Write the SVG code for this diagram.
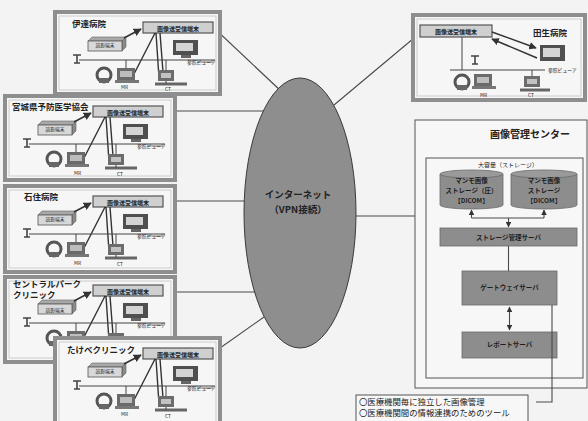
<svg xmlns="http://www.w3.org/2000/svg" xmlns:xlink="http://www.w3.org/1999/xlink" width="588" height="421" viewBox="0 0 588 421">
  <style>
    text { font-family: "Noto Sans CJK JP", "Noto Sans", sans-serif; fill: #222; }
    .name { font-size: 8.5px; font-weight: bold; }
    .gw { font-size: 6px; font-weight: bold; text-anchor: middle; }
    .tiny { font-size: 4.8px; }
    .mid { text-anchor: middle; }
    .frame { fill: #f6f6f6; stroke: #8e8e8e; stroke-width: 4; }
    .frame-in { fill: none; stroke: #c4c4c4; stroke-width: 0.8; }
    .link { fill: none; stroke: #4a4a4a; stroke-width: 1.1; }
    .srv { fill: #8d8d8d; stroke: #6a6a6a; stroke-width: 0.8; }
    .srvtxt { font-size: 6.5px; font-weight: bold; text-anchor: middle; fill: #1e1e1e; }
    .box { fill: #f7f7f7; stroke: #555; stroke-width: 1; }
  </style>
  <defs>
    <marker id="ah" viewBox="0 0 10 10" refX="9" refY="5" markerWidth="5" markerHeight="5" orient="auto-start-reverse">
      <path d="M0 0 L10 5 L0 10 z" fill="#333"/>
    </marker>
    <!-- equipment of one site: gateway terminal, reading terminal, viewer, network, MR and CT -->
    <g id="site">
      <rect x="88" y="10" width="70" height="11" fill="#cfcfcf" stroke="#555" stroke-width="1.2"/>
      <polygon points="33,29 37,25 71,25 67,29" fill="#a8a8a8" stroke="#666" stroke-width="0.6"/>
      <polygon points="67,29 71,25 71,35 67,39" fill="#8a8a8a" stroke="#666" stroke-width="0.6"/>
      <rect x="33" y="29" width="34" height="10" fill="#d8d8d8" stroke="#555" stroke-width="0.8"/>
      <path d="M69 26 L86 17" stroke="#333" stroke-width="1.6" fill="none" marker-end="url(#ah)"/>
      <path d="M100 21 L79 62 M101 21 L104 66 M105 21 L108 60" stroke="#333" stroke-width="1.4" fill="none"/>
      <path d="M24 48 L160 48" stroke="#444" stroke-width="1"/>
      <path d="M18 43 L26 43 M22 43 L22 51 M19 51 L25 51" stroke="#444" stroke-width="1.6" fill="none"/>
      <rect x="118" y="28" width="25" height="15" fill="#4f4f4f"/>
      <rect x="121" y="31" width="17" height="8" fill="#d4d4d4"/>
      <rect x="126" y="43" width="10" height="3" fill="#666"/>
      <!-- MR -->
      <circle cx="49" cy="63" r="7" fill="none" stroke="#555" stroke-width="3"/>
      <rect x="44" y="66" width="10" height="5" fill="#666"/>
      <rect x="62" y="56" width="18" height="12" fill="#6a6a6a"/>
      <rect x="65" y="59" width="12" height="6" fill="#bdbdbd"/>
      <rect x="60" y="68" width="24" height="3" fill="#777"/>
      <path d="M71 48 L71 56" stroke="#444" stroke-width="1"/>
      <!-- CT -->
      <rect x="103" y="58" width="16" height="11" fill="#6c6c6c"/>
      <rect x="106" y="61" width="10" height="5" fill="#c2c2c2"/>
      <path d="M100 72 L132 72" stroke="#666" stroke-width="3"/>
      <path d="M111 48 L111 58 M111 69 L111 72" stroke="#444" stroke-width="1"/>
      <path d="M143 50 L158 50" stroke="#555" stroke-width="0.8"/>
    </g>
  </defs>

  <rect width="588" height="421" fill="#f3f3f3"/>

  <!-- network connectors -->
  <g id="connectors">
    <path class="link" d="M213 27 L282 92"/>
    <path class="link" d="M163 111 L264 111"/>
    <path class="link" d="M163 201 L245 201"/>
    <path class="link" d="M163 292 L255 292"/>
    <path class="link" d="M213 353 L264 317"/>
    <path class="link" d="M334 105 L420 33"/>
    <path class="link" d="M356 216 L426 216"/>
  </g>

  <!-- site 4 sits beneath site 5 -->
  <g id="central-park">
    <rect class="frame" x="5" y="277" width="170" height="85"/>
    <rect class="frame-in" x="9" y="281" width="162" height="77"/>
    <use href="#site" transform="translate(5,275)"/>
    <text class="name" x="13" y="287" font-size="8">セントラルパーク</text>
    <text class="name" x="13" y="298" font-size="8">クリニック</text>
    <text class="gw" x="128" y="293.5">画像送受信端末</text>
    <text class="tiny mid" x="55" y="312">読影端末</text>
    <text class="tiny" x="137" y="327">参照ビューア</text>
  </g>

  <g id="date">
    <rect class="frame" x="55" y="12" width="165" height="82"/>
    <rect class="frame-in" x="59" y="16" width="157" height="74"/>
    <use href="#site" transform="translate(55,12)"/>
    <text class="name" x="72" y="27">伊達病院</text>
    <text class="gw" x="178" y="30.5">画像送受信端末</text>
    <text class="tiny mid" x="105" y="47">読影端末</text>
    <text class="tiny" x="187" y="64">参照ビューア</text>
    <text class="tiny" x="121" y="89">MR</text>
    <text class="tiny" x="165" y="91">CT</text>
  </g>

  <g id="miyagi">
    <rect class="frame" x="5" y="96" width="170" height="84"/>
    <rect class="frame-in" x="9" y="100" width="162" height="76"/>
    <use href="#site" transform="translate(5,96)"/>
    <text class="name" x="12" y="110">宮城県予防医学協会</text>
    <text class="gw" x="128" y="114.5">画像送受信端末</text>
    <text class="tiny mid" x="55" y="131">読影端末</text>
    <text class="tiny" x="137" y="148">参照ビューア</text>
    <text class="tiny" x="74" y="175">MR</text>
    <text class="tiny" x="117" y="176">CT</text>
  </g>

  <g id="ishizumi">
    <rect class="frame" x="5" y="186" width="170" height="86"/>
    <rect class="frame-in" x="9" y="190" width="162" height="78"/>
    <use href="#site" transform="translate(5,186)"/>
    <text class="name" x="24" y="200">石住病院</text>
    <text class="gw" x="128" y="204.5">画像送受信端末</text>
    <text class="tiny mid" x="55" y="221">読影端末</text>
    <text class="tiny" x="137" y="238">参照ビューア</text>
    <text class="tiny" x="74" y="265">MR</text>
    <text class="tiny" x="117" y="266">CT</text>
  </g>

  <g id="takebe">
    <rect class="frame" x="55" y="338" width="165" height="90"/>
    <rect class="frame-in" x="59" y="342" width="157" height="82"/>
    <use href="#site" transform="translate(55,338)"/>
    <text class="name" x="67" y="353">たけべクリニック</text>
    <text class="gw" x="178" y="356.5">画像送受信端末</text>
    <text class="tiny mid" x="105" y="373">読影端末</text>
    <text class="tiny" x="187" y="390">参照ビューア</text>
    <text class="tiny" x="121" y="416">MR</text>
    <text class="tiny" x="165" y="418">CT</text>
  </g>

  <g id="tasei">
    <rect class="frame" x="413" y="15" width="172" height="85"/>
    <rect class="frame-in" x="417" y="19" width="164" height="77"/>
    <rect x="420" y="25" width="72" height="12" fill="#cfcfcf" stroke="#555" stroke-width="1.2"/>
    <text class="gw" x="456" y="33.5">画像送受信端末</text>
    <text class="name" x="533" y="36">田生病院</text>
    <path d="M492 32 L536 48" stroke="#333" stroke-width="1.5" fill="none" marker-end="url(#ah)"/>
    <path d="M537 58 L492 39" stroke="#333" stroke-width="1.5" fill="none" marker-end="url(#ah)"/>
    <rect x="540" y="45" width="25" height="16" fill="#4f4f4f"/>
    <rect x="543" y="48" width="17" height="9" fill="#d4d4d4"/>
    <path d="M462 37 L462 70 M450 70 L545 70" stroke="#444" stroke-width="1" fill="none"/>
    <path d="M471 56 L479 56 M475 56 L475 64 M472 64 L478 64" stroke="#444" stroke-width="1.6" fill="none"/>
    <text class="tiny" x="548" y="72">参照ビューア</text>
    <circle cx="462" cy="82" r="7" fill="none" stroke="#555" stroke-width="3"/>
    <rect x="457" y="85" width="10" height="5" fill="#666"/>
    <rect x="474" y="74" width="18" height="12" fill="#6a6a6a"/>
    <rect x="477" y="77" width="12" height="6" fill="#bdbdbd"/>
    <rect x="472" y="86" width="24" height="3" fill="#777"/>
    <rect x="524" y="76" width="16" height="11" fill="#6c6c6c"/>
    <rect x="527" y="79" width="10" height="5" fill="#c2c2c2"/>
    <path d="M520 90 L550 90" stroke="#666" stroke-width="3"/>
    <path d="M532 70 L532 76" stroke="#444" stroke-width="1"/>
    <text class="tiny" x="480" y="97">MR</text>
    <text class="tiny" x="528" y="97">CT</text>
  </g>

  <g id="internet">
    <ellipse cx="300" cy="213" rx="56" ry="135" fill="#8e8e8e" stroke="#3a3a3a" stroke-width="1"/>
    <text x="298" y="198" text-anchor="middle" font-size="9.5" font-weight="bold">インターネット</text>
    <text x="298" y="213" text-anchor="middle" font-size="9.5" font-weight="bold">（VPN接続）</text>
  </g>

  <g id="image-center">
    <rect class="box" x="415" y="120" width="172" height="268"/>
    <text x="530" y="138" text-anchor="middle" font-size="10" font-weight="bold">画像管理センター</text>
    <rect class="box" x="426" y="158" width="157" height="220" fill="none"/>
    <text x="508" y="167" text-anchor="middle" font-size="6">大容量（ストレージ）</text>
  </g>

  <g id="storage-a">
    <path class="srv" d="M440 174 L440 205 A31.5 4 0 0 0 503 205 L503 174"/>
    <ellipse cx="471.5" cy="174" rx="31.5" ry="4" fill="#9a9a9a" stroke="#6a6a6a" stroke-width="0.8"/>
    <text class="srvtxt" x="471.5" y="183" font-size="6">マンモ画像</text>
    <text class="srvtxt" x="471.5" y="193">ストレージ（圧）</text>
    <text class="srvtxt" x="471.5" y="203">【DICOM】</text>
  </g>
  <g id="storage-b">
    <path class="srv" d="M511 174 L511 205 A33 4 0 0 0 577 205 L577 174"/>
    <ellipse cx="544" cy="174" rx="33" ry="4" fill="#9a9a9a" stroke="#6a6a6a" stroke-width="0.8"/>
    <text class="srvtxt" x="544" y="183">マンモ画像</text>
    <text class="srvtxt" x="544" y="193">ストレージ</text>
    <text class="srvtxt" x="544" y="203">【DICOM】</text>
  </g>
  <g id="storage-server">
    <rect class="srv" x="440" y="228" width="137" height="18"/>
    <text class="srvtxt" x="508.5" y="239.5">ストレージ管理サーバ</text>
  </g>
  <g id="gateway-server">
    <rect class="srv" x="462" y="271" width="95" height="34"/>
    <text class="srvtxt" x="509.5" y="290">ゲートウェイサーバ</text>
  </g>
  <g id="report-server">
    <rect class="srv" x="462" y="332" width="95" height="26"/>
    <text class="srvtxt" x="509.5" y="347">レポートサーバ</text>
  </g>

  <g id="center-links">
    <path class="link" d="M471.5 218 L471.5 210" marker-end="url(#ah)"/>
    <path class="link" d="M544 218 L544 210" marker-end="url(#ah)"/>
    <path class="link" d="M471.5 218 L544 218"/>
    <path class="link" d="M508.5 218 L508.5 227" marker-end="url(#ah)"/>
    <path class="link" d="M508.5 246 L508.5 271"/>
    <path class="link" d="M509.5 307 L509.5 330" marker-start="url(#ah)" marker-end="url(#ah)"/>
    <path class="link" d="M552 305 L552 402 L536 402"/>
  </g>

  <g id="note">
    <rect class="box" x="356" y="395" width="172" height="30" fill="#fafafa"/>
    <text x="359" y="405" font-size="8.4">〇医療機関毎に独立した画像管理</text>
    <text x="359" y="416" font-size="8.4">〇医療機関間の情報連携のためのツール</text>
  </g>
</svg>
